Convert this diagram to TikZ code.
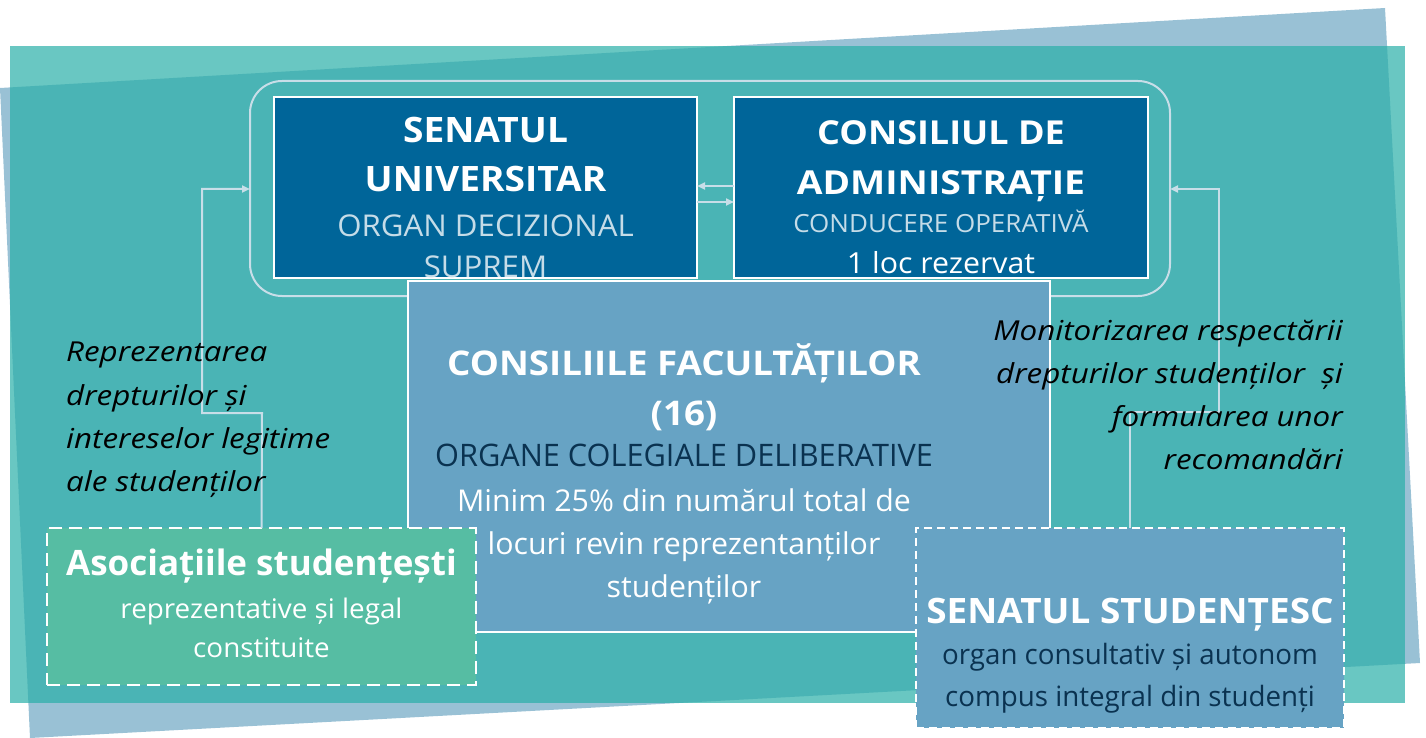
\documentclass[tikz,border=0pt]{standalone}
\usepackage{fontspec}
\setmainfont{Open Sans}
\usetikzlibrary{arrows.meta}
\definecolor{bgblue}{RGB}{153,193,213}
\definecolor{bgteal}{RGB}{41,175,168}
\definecolor{darkbox}{RGB}{0,101,153}
\definecolor{lighttext}{RGB}{197,220,232}
\definecolor{facbox}{RGB}{103,163,196}
\definecolor{asocbox}{RGB}{86,189,163}
\definecolor{navy}{RGB}{10,50,80}
\definecolor{conn}{RGB}{200,222,232}
\newcommand\fsz[2]{\fontsize{#1}{#1}\selectfont\addfontfeature{FakeStretch=#2}}
\newcommand\fszb[2]{\fontsize{#1}{#1}\selectfont\bfseries\addfontfeature{FakeStretch=#2}}
\newcommand\fszi[2]{\fontsize{#1}{#1}\selectfont\itshape\addfontfeature{FakeStretch=#2}}
\begin{document}
\begin{tikzpicture}[x=1pt,y=-1pt,
  boxnode/.style={rectangle, inner sep=0pt, outer sep=0pt},
  topbox/.style={boxnode, fill=darkbox, draw=white, line width=2.5pt},
  link/.style={draw=conn, line width=2pt, -{Triangle[length=8pt,width=7pt]}},
  tline/.style={anchor=base, inner sep=0pt, text=white},
  itl/.style={inner sep=0pt, text=black, font=\fszi{27.5}{1.14}}
]
\useasboundingbox (0,0) rectangle (1426,738);
% background
\fill[bgblue] (0,88) -- (1385,8) -- (1420,663) -- (30,738) -- cycle;
\fill[bgteal, opacity=.7] (10,46) rectangle (1405,703);
% group frame
\node[boxnode, draw=conn, line width=2pt, rounded corners=32pt, minimum width=920pt, minimum height=215pt] (grp) at (710,188.5) {};
% connector bends
\coordinate (lk1) at (262,413);
\coordinate (lk2) at (202,413);
\coordinate (lk3) at (202,189);
\coordinate (rk1) at (1130,412);
\coordinate (rk2) at (1219,412);
\coordinate (rk3) at (1219,189);
% top boxes
\node[topbox, minimum width=423pt, minimum height=181pt] (sen) at (485.5,187.5) {};
\node[topbox, minimum width=414pt, minimum height=181pt] (cons) at (941,187.5) {};
\draw[link] (cons.west |- 0,186) -- (sen.east |- 0,186);
\draw[link] (sen.east |- 0,202) -- (cons.west |- 0,202);
\begin{scope}
\clip (275,98) rectangle (696,279);
\node[tline, font=\fszb{35}{1.06}] (t1) at (485.5,142.7) {SENATUL};
\node[tline, font=\fszb{35}{1.06}] (t2) at (485.5,191.7) {UNIVERSITAR};
\node[tline, font=\fsz{30}{1.04}, text=lighttext] (t3) at (485.5,236.7) {ORGAN DECIZIONAL};
\node[tline, font=\fsz{30}{1.04}, text=lighttext] (t4) at (485.5,277.7) {SUPREM};
\end{scope}
\node[tline, font=\fszb{33}{1.09}] (c1) at (941,144.3) {CONSILIUL DE};
\node[tline, font=\fszb{33}{1.13}] (c2) at (941,194) {ADMINISTRAȚIE};
\node[tline, font=\fsz{25}{1.04}, text=lighttext] (c3) at (941,232.7) {CONDUCERE OPERATIVĂ};
\node[tline, font=\fsz{29}{1.045}] (c4) at (941,273.3) {1 loc rezervat};
% faculty box
\node[boxnode, fill=facbox, draw=white, line width=2pt, minimum width=642pt, minimum height=351pt] (fac) at (729,456.5) {};
% lower boxes
\node[boxnode, fill=asocbox, draw=white, line width=2.5pt, dash pattern=on 13pt off 7pt, minimum width=429pt, minimum height=157pt] (asoc) at (261.5,606.5) {};
\node[boxnode, fill=facbox, draw=white, line width=2.5pt, dash pattern=on 8pt off 5pt, minimum width=428pt, minimum height=200pt] (sstud) at (1130,628) {};
\draw[link] (asoc.north) -- (lk1) -- (lk2) -- (lk3) -- (grp.west |- lk3);
\draw[link] (sstud.north) -- (rk1) -- (rk2) -- (rk3) -- (grp.east |- rk3);
% faculty text
\node[tline, font=\fszb{34}{1.08}] (f1) at (684,375.7) {CONSILIILE FACULTĂȚILOR};
\node[tline, font=\fszb{34}{1.08}] (f2) at (684,425) {(16)};
\node[tline, font=\fsz{31}{0.99}, text=navy] (f3) at (684,466.7) {ORGANE COLEGIALE DELIBERATIVE};
\node[tline, font=\fsz{30}{1.01}] (f4) at (684,511.7) {Minim 25\% din numărul total de};
\node[tline, font=\fsz{30}{1.01}] (f5) at (684,554) {locuri revin reprezentanților};
\node[tline, font=\fsz{30}{1.01}] (f6) at (684,597) {studenților};
% asociatii text
\node[tline, font=\fszb{35}{1.0}] (a1) at (261.5,575) {Asociațiile studențești};
\node[tline, font=\fsz{27}{1.03}] (a2) at (261.5,618) {reprezentative și legal};
\node[tline, font=\fsz{27}{1.03}] (a3) at (261.5,657) {constituite};
% senatul studentesc text
\node[tline, font=\fszb{35}{1.055}] (s1) at (1130,623) {SENATUL STUDENȚESC};
\node[tline, font=\fsz{28}{0.99}, text=navy] (s2) at (1130,664) {organ consultativ și autonom};
\node[tline, font=\fsz{28}{0.99}, text=navy] (s3) at (1130,706) {compus integral din studenți};
% italic labels
\node[itl, anchor=base west] (l1) at (66,361.7) {Reprezentarea};
\node[itl, anchor=base west] (l2) at (66,405) {drepturilor și};
\node[itl, anchor=base west] (l3) at (66,448.3) {intereselor legitime};
\node[itl, anchor=base west] (l4) at (66,491.7) {ale studenților};
\node[itl, anchor=base east] (r1) at (1343,340) {Monitorizarea respectării};
\node[itl, anchor=base east] (r2) at (1343,383) {drepturilor studenților~ și};
\node[itl, anchor=base east] (r3) at (1343,426) {formularea unor};
\node[itl, anchor=base east] (r4) at (1343,469) {recomandări};
\end{tikzpicture}
\end{document}
